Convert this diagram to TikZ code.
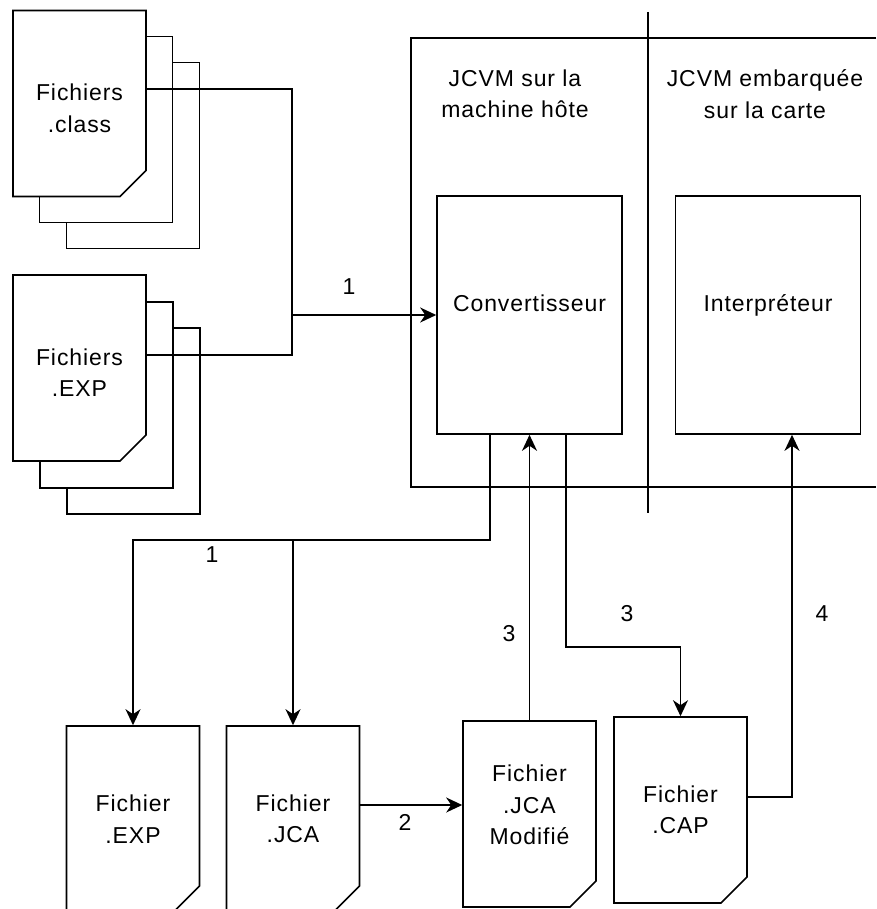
\documentclass[tikz,border=0pt]{standalone}
\usepackage{fontspec}
\setmainfont[LetterSpace=4]{Liberation Sans}
\usetikzlibrary{arrows.meta, shapes.misc}

\begin{document}
\begin{tikzpicture}[
	x=1pt, y=-1pt,
	line width=1.6pt,
	font=\fontsize{23}{31.5}\selectfont,
	docfile/.style={
		draw,
		fill=white,
		chamfered rectangle,
		chamfered rectangle corners=south east,
		chamfered rectangle xsep=13pt,
		chamfered rectangle ysep=13pt,
		minimum width=133pt,
		minimum height=186pt,
		align=center,
		inner sep=0pt
	},
	vmbox/.style={
		draw,
		rectangle,
		minimum width=185pt,
		minimum height=238pt,
		text height=17pt,
		text depth=25pt,
		align=center
	},
	flow/.style={-{Stealth[length=16pt, width=15pt, inset=5pt]}},
	numlabel/.style={inner sep=2pt}
	]
	\useasboundingbox (0,0) rectangle (876,909);
	
	% Stacked input files
	\node (class3) [docfile] at (133,155.5) {};
	\node (class2) [docfile] at (106,129.5) {};
	\node (class1) [docfile, text height=58pt] at (79.5,103.5) {Fichiers\\.class};
	\node (exp3) [docfile] at (133.5,421) {};
	\node (exp2) [docfile] at (106.5,395) {};
	\node (exp1) [docfile, text height=57pt] at (79.5,368) {Fichiers\\.EXP};
	
	% JCVM lanes
	\draw (876,38) -- (411,38) -- (411,487) -- (876,487);
	\draw (648,12) -- (648,513);
	\node (hostlane) at (515,94) [align=center] {JCVM sur la\\machine hôte};
	\node (cardlane) at (765,94) [align=center] {JCVM embarquée\\sur la carte};
	\node (conv) [vmbox] at (529.5,315) {Convertisseur};
	\node (interp) [vmbox] at (768,315) {Interpréteur};
	
	% Output files
	\node (expf) [docfile] at (133,819) {Fichier\\.EXP};
	\node (jca) [docfile] at (293,819) {Fichier\\.JCA};
	\node (jcam) [docfile, text depth=18pt] at (529.5,814) {Fichier\\.JCA\\Modifié};
	\node (cap) [docfile] at (680.5,810) {Fichier\\.CAP};
	
	% Connectors
	\coordinate (merge) at (292,315);
	\coordinate (split) at (293,540);
	\draw ([yshift=14.5pt]class1.east) -| (merge);
	\draw ([yshift=13pt]exp1.east) -| (merge);
	\draw [flow] (merge) -- (conv.west);
	\node [numlabel] at (349,287) {1};
	
	\draw [flow] ([xshift=-39.5pt]conv.south) |- (split) -| (expf.north);
	\draw [flow] (split) -- (jca.north);
	\node [numlabel] at (212,555) {1};
	
	\draw [flow] ([yshift=14pt]jca.east) -- ([yshift=14pt]jca.east -| jcam.west);
	\node [numlabel] at (405,822) {2};
	
	\draw [flow] (jcam.north) -- (conv.south);
	\node [numlabel] at (509,634) {3};
	
	\draw [flow] ([xshift=36.5pt]conv.south) -- ++(0,212) -| (cap.north);
	\node [numlabel] at (627,614) {3};
	
	\draw [flow] ([yshift=13pt]cap.east) -| ([xshift=24pt]interp.south);
	\node [numlabel] at (822,614) {4};
\end{tikzpicture}
\end{document}
